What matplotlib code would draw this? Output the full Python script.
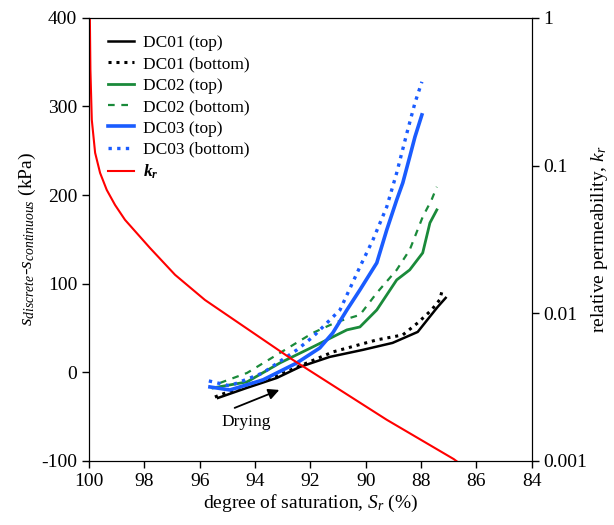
import numpy as np
import matplotlib
matplotlib.use('Agg')
import matplotlib.pyplot as plt
from matplotlib.ticker import FixedLocator, FixedFormatter, NullLocator

plt.rcParams['font.family'] = 'Liberation Serif'
plt.rcParams['axes.unicode_minus'] = False
plt.rcParams['mathtext.fontset'] = 'custom'
plt.rcParams['mathtext.rm'] = 'Liberation Serif'
plt.rcParams['mathtext.it'] = 'Liberation Serif:italic'
plt.rcParams['mathtext.bf'] = 'Liberation Serif:italic:bold'

# ---------------- data ----------------
dc01_top_sr = [95.34, 94.30, 93.21, 92.38, 91.30, 90.11, 89.03, 88.12, 87.69, 87.40, 87.11]
dc01_top_s  = [-28.9, -17.6, -6.3, 6.1, 17.4, 25.3, 33.2, 45.6, 62.5, 73.8, 84.0]

dc01_bot_sr = [95.45, 94.30, 93.21, 92.38, 91.19, 89.60, 88.66, 88.12, 87.62, 87.33, 87.22]
dc01_bot_s  = [-27.8, -14.2, -4.1, 7.2, 23.0, 36.6, 42.2, 55.8, 70.4, 81.7, 94.1]

dc02_top_sr = [95.52, 94.29, 93.10, 91.91, 90.68, 90.21, 89.60, 88.88, 88.41, 87.94, 87.68, 87.43]
dc02_top_s  = [-17.6, -10.8, 10.6, 28.7, 47.9, 51.2, 70.4, 104.3, 115.6, 134.8, 168.6, 183.3]

dc02_bot_sr = [95.27, 94.29, 93.10, 91.91, 91.04, 90.21, 89.60, 88.88, 88.41, 87.94, 87.62, 87.43]
dc02_bot_s  = [-12.0, -0.7, 21.9, 44.5, 56.9, 64.8, 89.6, 115.6, 138.2, 175.4, 194.6, 209.3]

dc03_top_sr = [95.63, 94.91, 93.72, 92.49, 91.66, 91.19, 90.68, 90.21, 89.60, 89.24,
               88.88, 88.66, 88.41, 88.22, 87.97]
dc03_top_s  = [-16.5, -19.9, -8.6, 10.6, 27.5, 44.5, 70.4, 93.0, 123.5, 160.7,
               194.6, 213.8, 243.1, 265.7, 290.5]

dc03_bot_sr = [95.67, 94.91, 93.72, 92.49, 91.91, 90.93, 90.21, 89.74, 89.24, 88.88,
               88.51, 88.22, 87.97]
dc03_bot_s  = [-9.7, -15.3, -0.7, 25.3, 40.0, 70.4, 119.0, 149.4, 186.7, 225.1,
               270.2, 304.1, 327.8]

kr_sr = [99.97, 99.95, 99.90, 99.78, 99.60, 99.36, 99.06, 98.70, 97.80, 96.89,
         95.81, 92.63, 89.24, 86.82, 86.50]
kr    = [1.0, 0.444, 0.204, 0.122, 0.0891, 0.0684, 0.0541, 0.0429, 0.0277, 0.0182,
         0.0123, 0.00483, 0.0019, 0.00103, 0.00093]

# ---------------- figure ----------------
fig = plt.figure(figsize=(6.14, 5.25), dpi=100)
ax = fig.add_axes([0.145, 0.122, 0.721, 0.844])
ax2 = ax.twinx()

l1, = ax.plot(dc01_top_sr, dc01_top_s, color='black', lw=1.8, ls='-')
l2, = ax.plot(dc01_bot_sr, dc01_bot_s, color='black', lw=2.2, ls=(0, (1, 1.6)))
l3, = ax.plot(dc02_top_sr, dc02_top_s, color='#1a8a3a', lw=2.0, ls='-')
l4, = ax.plot(dc02_bot_sr, dc02_bot_s, color='#1a8a3a', lw=1.6, ls=(0, (3, 3)))
l5, = ax.plot(dc03_top_sr, dc03_top_s, color='#1a5cff', lw=2.6, ls='-')
l6, = ax.plot(dc03_bot_sr, dc03_bot_s, color='#1a5cff', lw=2.4, ls=(0, (1, 1.6)))
l7, = ax2.plot(kr_sr, kr, color='red', lw=1.5)

ax.set_xlim(100, 84)
ax.set_ylim(-100, 400)
ax.set_xticks(np.arange(100, 83, -2))
ax.set_yticks(np.arange(-100, 401, 100))
ax.tick_params(direction='out', length=5, width=1, labelsize=14)

ax2.set_yscale('log')
ax2.set_ylim(0.001, 1)
ax2.yaxis.set_major_locator(FixedLocator([0.001, 0.01, 0.1, 1]))
ax2.yaxis.set_major_formatter(FixedFormatter(['0.001', '0.01', '0.1', '1']))
ax2.yaxis.set_minor_locator(NullLocator())
ax2.tick_params(direction='out', length=5, width=1, labelsize=14)

ax.set_xlabel(r'degree of saturation, $S_r$ (%)', fontsize=14, labelpad=2)
ax.set_ylabel(r'$s_{discrete}$-$s_{continuous}$ (kPa)', fontsize=14, labelpad=2)
ax2.set_ylabel(r'relative permeability, $k_r$', fontsize=14, labelpad=1)

ax.annotate('', xy=(93.03, -18.7), xytext=(94.83, -41.3),
            arrowprops=dict(arrowstyle='-|>', color='black', lw=1.3,
                            mutation_scale=16))
ax.text(94.33, -56, 'Drying', fontsize=12.5, ha='center', va='center')

ax.legend([l1, l2, l3, l4, l5, l6, l7],
          ['DC01 (top)', 'DC01 (bottom)', 'DC02 (top)', 'DC02 (bottom)',
           'DC03 (top)', 'DC03 (bottom)', r'$\mathbf{k_r}$'],
          loc='upper left', bbox_to_anchor=(0.02, 0.985), frameon=False,
          fontsize=12.5, handlelength=1.5, handletextpad=0.5,
          labelspacing=0.3, borderaxespad=0.2)

fig.savefig('out.png', dpi=100)
